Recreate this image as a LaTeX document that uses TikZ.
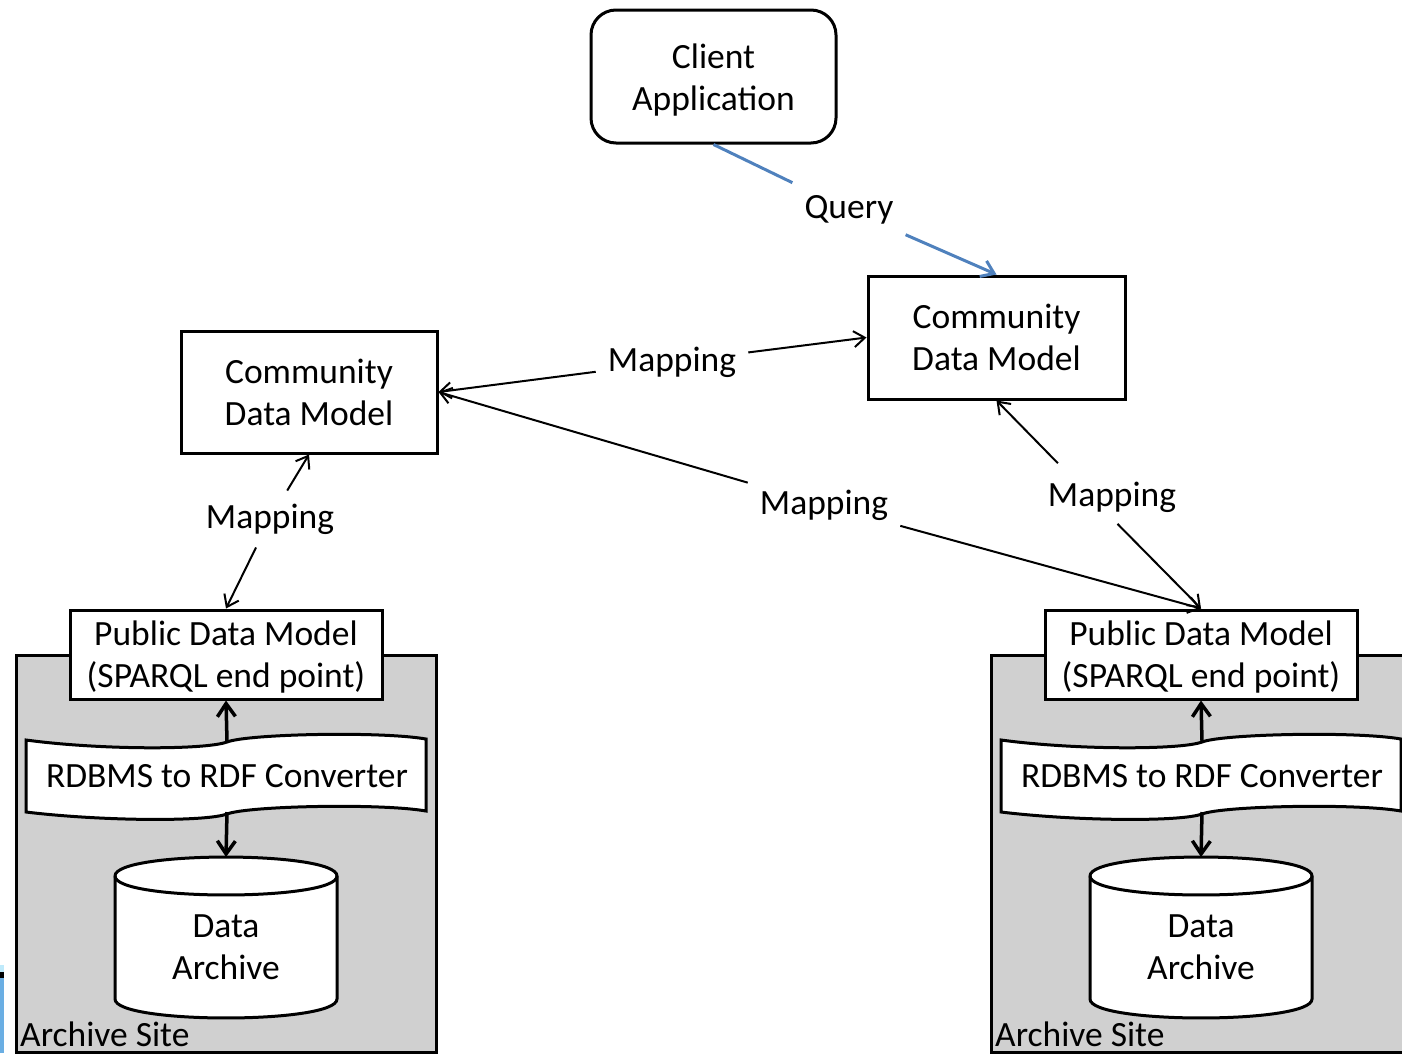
\documentclass[tikz,border=0pt]{standalone}
\usepackage{fontspec}
\setmainfont{Carlito}
\usetikzlibrary{arrows.meta,calc}
\definecolor{sitegray}{RGB}{208,208,208}
\definecolor{qblue}{RGB}{79,129,189}
\newcommand\mysite{%
  \filldraw[fill=sitegray,draw=black,line width=3pt] (16,655) rectangle (436,1052.5);
  \node[box,minimum width=312pt,minimum height=89pt] (pdm) at (226,654.5) {};
  \node[align=center,inner sep=0pt] (pdmtext) at (226,657.5) {Public Data Model\\(SPARQL end point)};
  \filldraw[fill=white,draw=black,line width=3pt]
    (26,740) .. controls (100,750) and (205,750) .. (227,742)
    .. controls (247,734) and (380,731) .. (426,739)
    -- (426,811)
    .. controls (380,803) and (247,806) .. (227,814)
    .. controls (205,822) and (100,821) .. (26,812) -- cycle;
  \node (conv) at (227,776) {RDBMS to RDF Converter};
  \coordinate (convtop) at (227,741);
  \coordinate (convbot) at (227,812);
  \filldraw[fill=white,draw=black,line width=3pt]
    (115,876) -- (115,999) .. controls (115,1024.3) and (337,1024.3) .. (337,999)
    -- (337,876) .. controls (337,850.7) and (115,850.7) .. (115,876) -- cycle;
  \draw[line width=3pt] (115,876) .. controls (115,901.3) and (337,901.3) .. (337,876);
  \coordinate (dbtop) at (226,857);
  \node[align=center] (db) at (226,947) {Data\\Archive};
  \node[anchor=base west,inner sep=0pt] (site) at (20,1046) {Archive Site};
  \draw[thickarr] (convtop) -- (pdm.south);
  \draw[thickarr] (convbot) -- (dbtop);
}
\begin{document}
\begin{tikzpicture}[x=1pt,y=-1pt,
  font=\fontsize{35.5}{42}\selectfont,
  box/.style={draw,line width=3pt,fill=white,align=center,inner sep=0pt},
  lbl/.style={inner xsep=12pt,inner ysep=13pt},
  arr/.style={line width=2pt,-{Straight Barb[length=11pt,width=16pt]}},
  thickarr/.style={line width=3.5pt,-{Straight Barb[length=13pt,width=18pt]}},
  qline/.style={line width=3pt,draw=qblue},
]
\useasboundingbox (0,0) rectangle (1402,1053);
% small cropped artifact at the lower left edge
\fill[cyan!25] (0,965) rectangle (4,972);
\fill[black] (0,972) rectangle (4,978);
\fill[cyan!70!blue!60] (0,978) rectangle (4,1053);

\begin{scope}[name prefix=L-]
  \mysite
\end{scope}
\begin{scope}[shift={(975,0)},name prefix=R-]
  \mysite
\end{scope}

\node[box,rounded corners=25pt,minimum width=245pt,minimum height=133pt] (client) at (713.5,76.5) {};
\node[align=center,inner sep=0pt] (clienttext) at (713.5,80) {Client\\Application};
\node[box,minimum width=257pt,minimum height=123pt] (cdmR) at (996.5,337.5) {Community\\Data Model};
\node[box,minimum width=256pt,minimum height=122pt] (cdmL) at (309,392) {Community\\Data Model};

\node[lbl] (q) at (849,210) {Query};
\node[lbl] (m1) at (672,362) {Mapping};
\node[lbl] (m2) at (824,505) {Mapping};
\node[lbl] (m3) at (1112,497) {Mapping};
\node[lbl] (m4) at (270,519) {Mapping};
\coordinate (m3c) at (1088,494);

\draw[qline] (client.south) -- (q);
\draw[qline,-{Straight Barb[length=12pt,width=17pt]}] (q) -- (cdmR.north);

\draw[arr] (m1) -- (cdmR.west);
\draw[arr] (m1) -- (cdmL.east);
\draw[arr] (m2) -- (cdmL.east);
\draw[arr] (m2) -- (R-pdm.north);
\draw[arr,shorten <=43pt] (m3c) -- (cdmR.south);
\draw[arr,shorten <=42pt] (m3c) -- (R-pdm.north);
\draw[arr] (m4) -- (cdmL.south);
\draw[arr] (m4) -- (L-pdm.north);
\end{tikzpicture}
\end{document}
